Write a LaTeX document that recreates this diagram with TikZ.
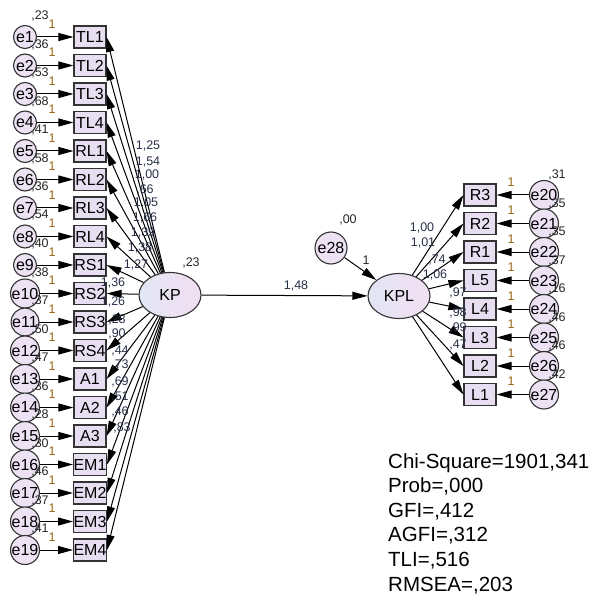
\documentclass[tikz,border=0pt]{standalone}
\usepackage{fontspec}
\setmainfont{Liberation Sans}
\usetikzlibrary{arrows.meta}
\usetikzlibrary{shapes.geometric}
\definecolor{boxfill}{RGB}{232,222,242}
\definecolor{errfill}{RGB}{236,226,244}
\definecolor{latleft}{RGB}{226,230,244}
\definecolor{latright}{RGB}{242,222,242}
\definecolor{onecolor}{RGB}{150,100,20}
\definecolor{loadcolor}{RGB}{40,48,72}
\tikzset{
    obsbox/.style={draw=black!80, line width=1.1pt, fill=boxfill, minimum width=32pt,
        minimum height=22pt, inner sep=0pt, font=\fontsize{16}{16}\selectfont},
    errcirc/.style={circle, draw=black!80, line width=1.1pt, fill=errfill, minimum size=23pt,
        inner sep=0pt, font=\fontsize{16}{16}\selectfont},
    latent/.style={ellipse, draw=black!80, line width=1.1pt, left color=latleft, right color=latright,
        minimum width=62pt, minimum height=45pt, inner sep=0pt, font=\fontsize{16}{16}\selectfont},
    onelbl/.style={inner sep=0pt, text=onecolor, font=\fontsize{12.5}{12.5}\selectfont},
    varlbl/.style={inner sep=0pt, text=black!85, font=\fontsize{12.5}{12.5}\selectfont},
    loadlbl/.style={inner sep=0pt, text=loadcolor, font=\fontsize{12.5}{12.5}\selectfont},
}
\newcommand{\drawarrow}{\draw[-{Triangle[length=15pt,width=8pt]}, line width=1pt]}

\begin{document}
\begin{tikzpicture}[x=1pt, y=-1pt]
    \useasboundingbox (0,0) rectangle (597,601);

    % Draw latent variables
    \node[latent] (KP) at (170,295) {KP};
    \node[latent] (KPL) at (399,296) {KPL};
    \node[errcirc, minimum size=32pt] (e28) at (331,248) {e28};
    \node[varlbl] at (191,263) {,23};
    \node[varlbl] at (348,220) {,00};

    % Draw left indicators with errors
    \foreach \name/\var [count=\i] in {TL1/{,23},TL2/{,36},TL3/{,53},TL4/{,68},RL1/{,41},
        RL2/{,58},RL3/{,36},RL4/{,54},RS1/{,40},RS2/{,38},RS3/{,37},RS4/{,50},
        A1/{,47},A2/{,36},A3/{,28},EM1/{,30},EM2/{,46},EM3/{,37},EM4/{,41}} {
        \pgfmathsetmacro\yy{37+28.5*(\i-1)}
        \node[obsbox] (\name) at (90,\yy) {\name};
        \node[errcirc] (e\i) at (25,\yy) {e\i};
        \drawarrow (e\i) -- (\name);
        \node[onelbl] at (52,\yy-13) {1};
        \node[varlbl] at (40,\yy-21) {\var};
    }

    % Draw right indicators with errors
    \foreach \name/\var [count=\j from 20] in {R3/{,31},R2/{,35},R1/{,35},L5/{,37},
        L4/{,16},L3/{,46},L2/{,46},L1/{,42}} {
        \pgfmathsetmacro\yy{195+28.5*(\j-20)}
        \node[obsbox] (\name) at (480,\yy) {\name};
        \node[errcirc] (e\j) at (544,\yy) {e\j};
        \drawarrow (e\j) -- (\name);
        \node[onelbl] at (511,\yy-13) {1};
        \node[varlbl] at (557,\yy-20) {\var};
    }

    % Draw loadings of KP
    \foreach \name/\val/\lx/\ly in {TL1/{1,25}/148/146, TL2/{1,54}/148/162, TL3/{1,00}/147/175,
        TL4/{,66}/145/190, RL1/{1,05}/146/203, RL2/{1,66}/145/218, RL3/{1,39}/143/233,
        RL4/{1,38}/140/248, RS1/{1,27}/136/265, RS2/{1,36}/113/283, RS3/{1,26}/113/302,
        RS4/{,28}/117/320, A1/{,90}/117/334, A2/{,44}/120/351, A3/{,73}/120/365,
        EM1/{,69}/120/382, EM2/{,51}/120/397, EM3/{,46}/120/412, EM4/{,83}/122/428} {
        \drawarrow (KP) -- (\name.east);
        \node[loadlbl] at (\lx,\ly) {\val};
    }

    % Draw loadings of KPL
    \foreach \name/\val/\lx/\ly in {R3/{1,00}/422/228, R2/{1,01}/423/243, R1/{,74}/437/260,
        L5/{1,06}/435/275, L4/{,97}/458/293, L3/{,98}/458/313, L2/{,99}/458/328,
        L1/{,47}/458/345} {
        \drawarrow (KPL) -- (\name.west);
        \node[loadlbl] at (\lx,\ly) {\val};
    }

    % Draw structural path
    \drawarrow (KP) -- (KPL);
    \node[loadlbl] at (296,286) {1,48};
    \drawarrow (e28) -- (KPL);
    \node[onelbl, text=black!85] at (366,260) {1};

    % Fit statistics
    \node[anchor=north west, align=left, inner sep=0pt,
        font=\fontsize{20.5}{24.6}\selectfont] (fit) at (388,453)
        {Chi-Square=1901,341\\Prob=,000\\GFI=,412\\AGFI=,312\\TLI=,516\\RMSEA=,203};
\end{tikzpicture}
\end{document}
